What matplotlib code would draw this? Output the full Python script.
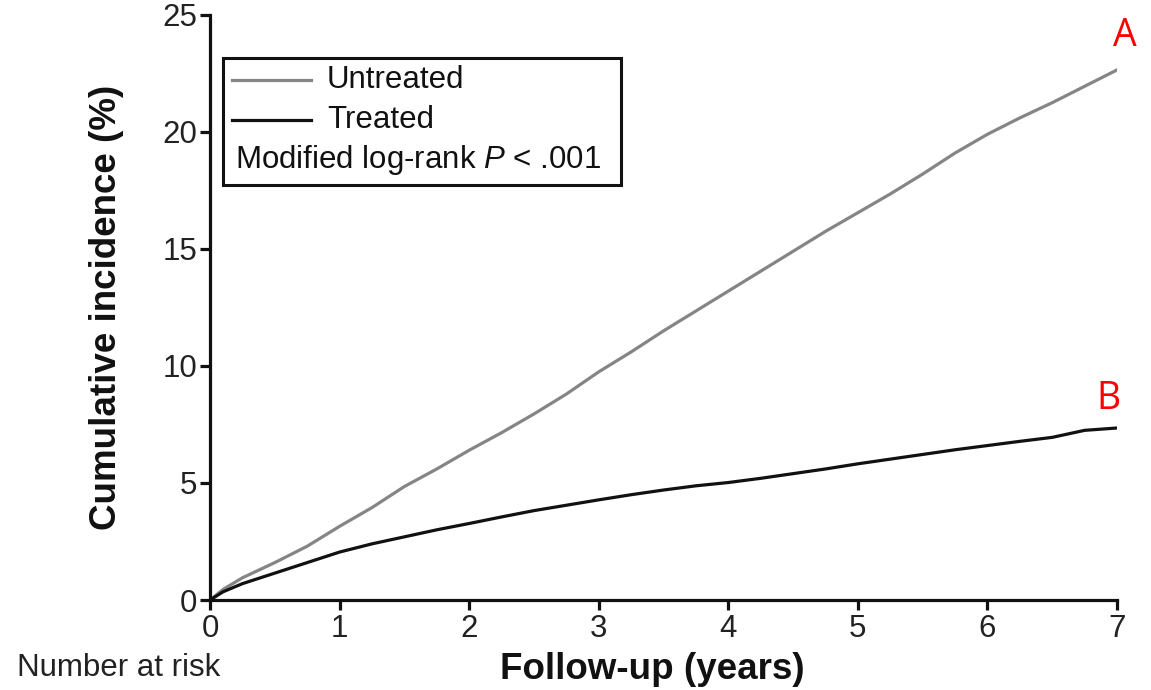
import matplotlib
matplotlib.use("Agg")
import matplotlib.pyplot as plt
from matplotlib.patches import Rectangle
from matplotlib.lines import Line2D

plt.rcParams['font.family'] = ['Liberation Sans', 'DejaVu Sans']
plt.rcParams['mathtext.fontset'] = 'custom'
plt.rcParams['mathtext.rm'] = 'Liberation Sans'
plt.rcParams['mathtext.it'] = 'Liberation Sans:italic'

# Data
years = [0, 0.1, 0.25, 0.5, 0.75, 1, 1.25, 1.5, 1.75, 2, 2.25, 2.5, 2.75, 3, 3.25,
         3.5, 3.75, 4, 4.25, 4.5, 4.75, 5, 5.25, 5.5, 5.75, 6, 6.25, 6.5, 6.75, 7]
untreated = [0, 0.45, 0.95, 1.6, 2.3, 3.15, 3.95, 4.85, 5.6, 6.4, 7.15, 7.95, 8.8, 9.75,
             10.6, 11.5, 12.35, 13.2, 14.05, 14.9, 15.75, 16.55, 17.35, 18.2, 19.1,
             19.9, 20.6, 21.25, 21.95, 22.65]
treated = [0, 0.35, 0.7, 1.15, 1.6, 2.05, 2.4, 2.7, 3.0, 3.27, 3.55, 3.82, 4.05, 4.28,
           4.5, 4.7, 4.88, 5.02, 5.2, 5.4, 5.6, 5.82, 6.02, 6.22, 6.42, 6.6, 6.78, 6.95,
           7.25, 7.35]
x_ticks = [0, 1, 2, 3, 4, 5, 6, 7]
y_ticks = [0, 5, 10, 15, 20, 25]
series_labels = ['Untreated', 'Treated']
stat_text = 'Modified log-rank $\\mathit{P}$ < .001'

GRAY = '#858585'
TXT = 22.5
fig = plt.figure(figsize=(11.51, 6.90), dpi=100)
ax = fig.add_axes([0.1825, 0.1304, 0.788, 0.848])

ax.plot(years, untreated, color=GRAY, lw=2.3, solid_joinstyle='round')
ax.plot(years, treated, color='#111111', lw=2.3, solid_joinstyle='round')

ax.set_xlim(0, 7)
ax.set_ylim(0, 25)
ax.set_xticks(x_ticks)
ax.set_yticks(y_ticks)
for s in ['top', 'right']:
    ax.spines[s].set_visible(False)
for s in ['left', 'bottom']:
    ax.spines[s].set_linewidth(2.3)
    ax.spines[s].set_color('#111111')
ax.tick_params(axis='both', direction='out', length=7, width=2.3, labelsize=TXT,
               colors='#111111', labelcolor='#222222')
ax.tick_params(axis='y', pad=2)
ax.tick_params(axis='x', pad=3)

ax.set_ylabel('Cumulative incidence (%)', fontsize=26.5, fontweight='bold',
              color='#111111', labelpad=28)
ax.set_xlabel('Follow-up (years)', fontsize=26.5, fontweight='bold',
              color='#111111', labelpad=0)
ax.xaxis.set_label_coords(0.488, -0.088)

fig.text(0.015, 0.032, 'Number at risk', fontsize=TXT, color='#222222',
         ha='left', va='center')

# Legend box
ax.add_patch(Rectangle((0.0143, 0.709), 0.4389, 0.2175, transform=ax.transAxes,
                       fill=False, ec='#111111', lw=2.2, clip_on=False, zorder=5))
ax.add_line(Line2D([0.024, 0.111], [0.889, 0.889], transform=ax.transAxes,
                   color=GRAY, lw=2.3, clip_on=False))
ax.add_line(Line2D([0.024, 0.111], [0.8205, 0.8205], transform=ax.transAxes,
                   color='#111111', lw=2.3, clip_on=False))
ax.text(0.129, 0.889, series_labels[0], transform=ax.transAxes, fontsize=TXT,
        va='center', ha='left', color='#111111')
ax.text(0.129, 0.8205, series_labels[1], transform=ax.transAxes, fontsize=TXT,
        va='center', ha='left', color='#111111')
ax.text(0.0275, 0.752, stat_text, transform=ax.transAxes, fontsize=TXT,
        va='center', ha='left', color='#111111')

# Red labels
ax.text(7.06, 24.1, 'A', fontsize=27, color='red', ha='center', va='center',
        family=['Open Sans', 'DejaVu Sans'], clip_on=False)
ax.text(6.93, 8.6, 'B', fontsize=27, color='red', ha='center', va='center',
        family=['Open Sans', 'DejaVu Sans'], clip_on=False)

fig.savefig('out.png', dpi=100)
